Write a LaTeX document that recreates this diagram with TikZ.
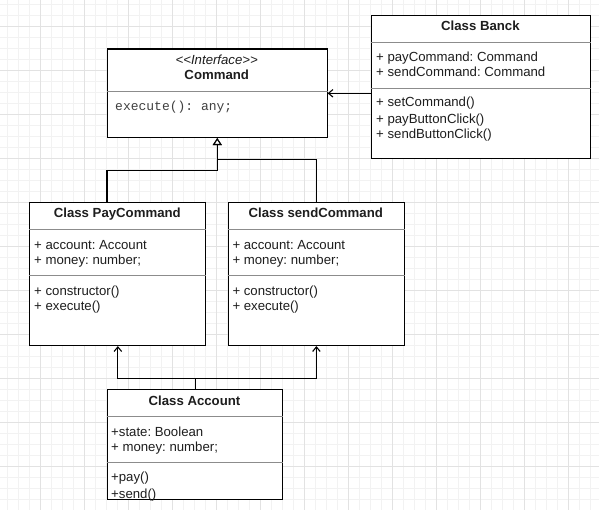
\documentclass[tikz,border=0pt]{standalone}
\usepackage{fontspec}
\setmainfont{Liberation Sans}
\setmonofont{Liberation Mono}
\usetikzlibrary{arrows.meta,calc}
\definecolor{gridminor}{HTML}{F2F2F2}
\definecolor{gridmajor}{HTML}{E2E2E2}
\definecolor{sepgray}{HTML}{8C8C8C}
\definecolor{txtcol}{HTML}{1E1E1E}
\frenchspacing
\tikzset{
  umlbox/.style={draw=black, line width=1.1pt, fill=white, rectangle, anchor=north west, inner sep=0pt},
  sepline/.style={draw=sepgray, line width=0.9pt},
  txt/.style={font=\fontsize{13.2}{16}\selectfont, text=txtcol, inner sep=0pt, anchor=base west},
  ttl/.style={font=\fontsize{13.2}{16}\selectfont\bfseries, text=txtcol, inner sep=0pt, anchor=base},
  monotxt/.style={font=\ttfamily\fontsize{13}{16}\selectfont, text=txtcol!85, inner sep=0pt, anchor=base west},
  realize/.style={draw=black, line width=1.1pt, -{Triangle[open, length=7pt, width=9pt, fill=white]}},
  assoc/.style={draw=black, line width=1.1pt, -{Straight Barb[length=4.5pt, width=7.5pt, line width=1.1pt]}},
}
\begin{document}
\begin{tikzpicture}[x=1pt,y=-1pt]
\useasboundingbox (0,0) rectangle (599,510);
\fill[white] (0,0) rectangle (599,510);
% grid
\foreach \gx in {7,18,...,598} \draw[gridminor, line width=0.6pt] (\gx,0) -- (\gx,510);
\foreach \gy in {4,15,...,509} \draw[gridminor, line width=0.6pt] (0,\gy) -- (599,\gy);
\foreach \gx in {40,84,...,598} \draw[gridmajor, line width=0.8pt] (\gx,0) -- (\gx,510);
\foreach \gy in {26,70,...,509} \draw[gridmajor, line width=0.8pt] (0,\gy) -- (599,\gy);

% Command interface
\node[umlbox, minimum width=219.5pt, minimum height=88.5pt] (cmd) at (107,48.5) {};
\draw[sepline] ($(cmd.north west)+(0,43.2)$) -- ($(cmd.north east)+(0,43.2)$);
\node[ttl, font=\fontsize{13.2}{16}\selectfont\itshape] (cmdst) at (216.75,64.5) {<\kern0pt<Interface>\kern0pt>};
\node[ttl] (cmdname) at (216.75,80) {Command};
\node[monotxt] (cmdm1) at (115,111) {execute(): any;};

% Banck
\node[umlbox, minimum width=219.3pt, minimum height=142.7pt] (banck) at (370.7,15) {};
\draw[sepline] ($(banck.north west)+(0,27.3)$) -- ($(banck.north east)+(0,27.3)$);
\draw[sepline] ($(banck.north west)+(0,73.3)$) -- ($(banck.north east)+(0,73.3)$);
\node[ttl] (bt) at (480.4,31) {Class Banck};
\node[txt] (ba1) at (376,61.7) {+ payCommand: Command};
\node[txt] (ba2) at (376,77) {+ sendCommand: Command};
\node[txt] (bm1) at (376,106.7) {+ setCommand()};
\node[txt] (bm2) at (376,123.3) {+ payButtonClick()};
\node[txt] (bm3) at (376,139) {+ sendButtonClick()};

% PayCommand
\node[umlbox, minimum width=176pt, minimum height=142.7pt] (pay) at (29.3,202.3) {};
\draw[sepline] ($(pay.north west)+(0,26.7)$) -- ($(pay.north east)+(0,26.7)$);
\draw[sepline] ($(pay.north west)+(0,72.7)$) -- ($(pay.north east)+(0,72.7)$);
\node[ttl] (pt) at (117.3,218) {Class PayCommand};
\node[txt] (pa1) at (34,249.3) {+ account: Account};
\node[txt] (pa2) at (34,264.3) {+ money: number;};
\node[txt] (pm1) at (34,295.7) {+ constructor()};
\node[txt] (pm2) at (34,310.7) {+ execute()};

% sendCommand
\node[umlbox, minimum width=176.3pt, minimum height=142.7pt] (send) at (227.7,202.3) {};
\draw[sepline] ($(send.north west)+(0,26.7)$) -- ($(send.north east)+(0,26.7)$);
\draw[sepline] ($(send.north west)+(0,72.7)$) -- ($(send.north east)+(0,72.7)$);
\node[ttl] (st) at (315.8,218) {Class sendCommand};
\node[txt] (sa1) at (232.3,249.3) {+ account: Account};
\node[txt] (sa2) at (232.3,264.3) {+ money: number;};
\node[txt] (sm1) at (232.3,295.7) {+ constructor()};
\node[txt] (sm2) at (232.3,310.7) {+ execute()};

% Account
\node[umlbox, minimum width=175.6pt, minimum height=110pt] (acc) at (106.7,389.3) {};
\draw[sepline] ($(acc.north west)+(0,27)$) -- ($(acc.north east)+(0,27)$);
\draw[sepline] ($(acc.north west)+(0,73)$) -- ($(acc.north east)+(0,73)$);
\node[ttl] (at) at (194.5,405.5) {Class Account};
\node[txt] (aa1) at (111,436) {+state: Boolean};
\node[txt] (aa2) at (111,451.7) {+ money: number;};
\node[txt] (am1) at (111,481.7) {+pay()};
\node[txt] (am2) at (111,498.3) {+send()};

% connectors
\draw[assoc] (cmd.east -| banck.west) -- (cmd.east);
\draw[realize] (pay.north -| cmd.west) |- ($(cmd.south)+(0,32)$) -- (cmd.south);
\draw[realize] (send.north) |- ($(cmd.south)+(0,21)$) -- (cmd.south);
\draw[assoc] (acc.north) -- ++(0,-11) -| (pay.south);
\draw[assoc] (acc.north) -- ++(0,-11) -| (send.south);
\end{tikzpicture}
\end{document}
